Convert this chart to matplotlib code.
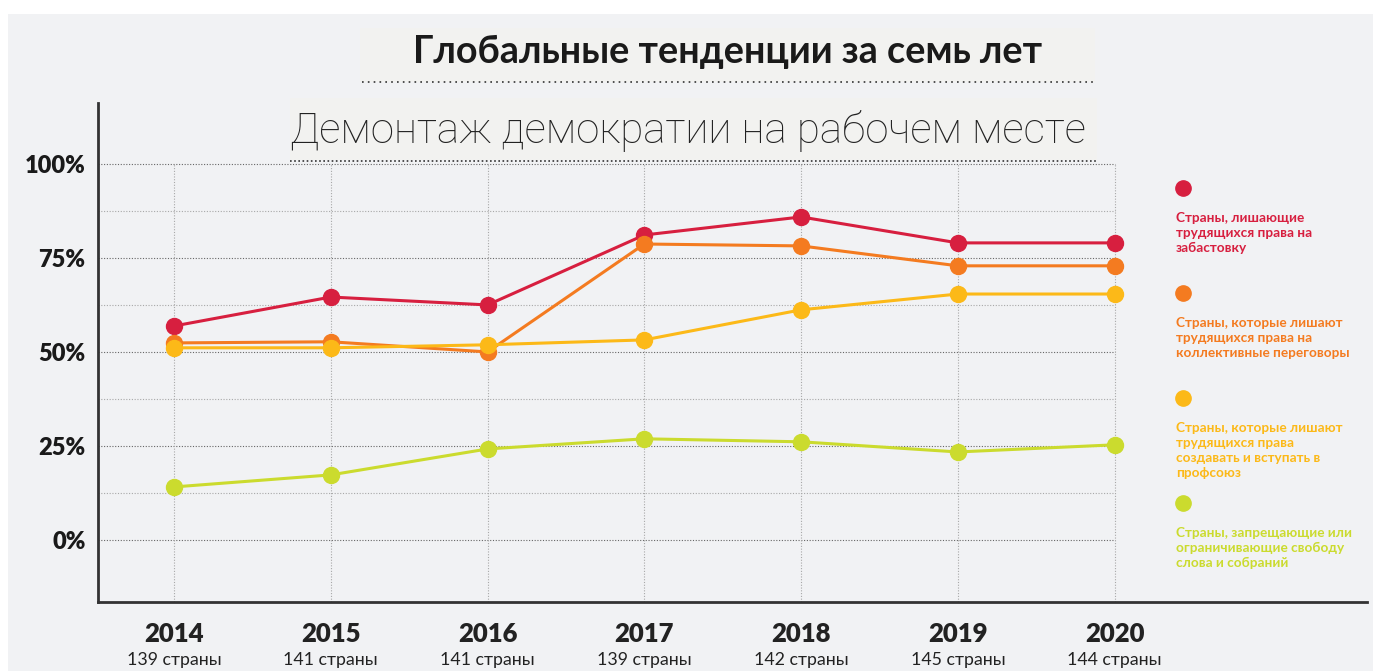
import matplotlib.pyplot as plt
from matplotlib.patches import Rectangle

plt.rcParams["font.family"] = ["Lato", "DejaVu Sans"]

years = [2014, 2015, 2016, 2017, 2018, 2019, 2020]
country_counts = ["139 страны", "141 страны", "141 страны", "139 страны",
                  "142 страны", "145 страны", "144 страны"]

strike = [56.9, 64.6, 62.5, 81.1, 85.9, 79.0, 79.0]
bargaining = [52.4, 52.7, 50.0, 78.7, 78.2, 72.9, 72.9]
unions = [51.1, 51.1, 51.9, 53.2, 61.2, 65.4, 65.4]
speech = [14.1, 17.3, 24.2, 26.9, 26.1, 23.4, 25.3]

series_labels = [
    "Страны, лишающие\nтрудящихся права на\nзабастовку",
    "Страны, которые лишают\nтрудящихся права на\nколлективные переговоры",
    "Страны, которые лишают\nтрудящихся права\nсоздавать и вступать в\nпрофсоюз",
    "Страны, запрещающие или\nограничивающие свободу\nслова и собраний",
]
colors = ["#d71f3f", "#f47b20", "#fcb918", "#cbdb2e"]

y_ticks = [0, 25, 50, 75, 100]
y_minor = [12.5, 37.5, 62.5, 87.5]

W, H = 1373, 671
BG = "#f1f2f4"


def fx(px):
    return px / W


def fy(py):
    return 1 - py / H


fig = plt.figure(figsize=(W / 100, H / 100), dpi=100, facecolor="white")
fig.patches.append(Rectangle((fx(8), 0), 1 - fx(8), fy(14), transform=fig.transFigure,
                             facecolor=BG, edgecolor="none", zorder=-3))
# faint boxes behind the headings
fig.patches.append(Rectangle((fx(360), fy(82)), fx(1095 - 360), (82 - 28) / H,
                             transform=fig.transFigure, facecolor="#f2f2f0",
                             edgecolor="none", zorder=-2))
fig.patches.append(Rectangle((fx(290), fy(160)), fx(1097 - 290), (160 - 98) / H,
                             transform=fig.transFigure, facecolor="#f2f2f0",
                             edgecolor="none", zorder=-2))

ax = fig.add_axes([fx(98), fy(602), fx(1367 - 98), (602 - 103) / H])
ax.set_facecolor("none")
ax.set_xlim(2013.515, 2021.61)
ax.set_ylim(-16.5, 116.2)

for s in ["top", "right"]:
    ax.spines[s].set_visible(False)
for s in ["left", "bottom"]:
    ax.spines[s].set_color("#333333")
    ax.spines[s].set_linewidth(2)

# grid
ax.hlines(y_ticks, 2013.515, 2020, colors="#666666", linestyles=(0, (1, 1.5)), linewidth=0.8, zorder=1)
ax.hlines(y_minor, 2013.515, 2020, colors="#a8a8a8", linestyles=(0, (1, 1.5)), linewidth=0.8, zorder=1)
ax.vlines(years, -16.5, 100, colors="#a8a8a8", linestyles=(0, (1, 1.5)), linewidth=0.8, zorder=1)

for vals, c in zip([strike, bargaining, unions, speech], colors):
    ax.plot(years, vals, color=c, lw=2.2, marker="o", ms=11.5, zorder=3)

ax.set_yticks(y_ticks)
ax.set_yticklabels([f"{v}%" for v in y_ticks], fontsize=17, fontweight="heavy", color="#1a1a1a")
ax.tick_params(axis="y", length=0, pad=9)
ax.set_xticks([])

for yr, cnt in zip(years, country_counts):
    ax.annotate(str(yr), (yr, 0), xycoords=("data", "axes fraction"), xytext=(0, -32),
                textcoords="offset pixels", ha="center", va="center",
                fontsize=18.5, fontweight="heavy", color="#222222")
    ax.annotate(cnt, (yr, 0), xycoords=("data", "axes fraction"), xytext=(0, -58),
                textcoords="offset pixels", ha="center", va="center",
                fontsize=12.8, color="#222222")

# headings
fig.text(fx(728), fy(52), "Глобальные тенденции за семь лет", ha="center", va="center",
         fontsize=27.2, fontweight="bold", color="#1a1a1a")
fig.add_artist(plt.Line2D([fx(362), fx(1095)], [fy(82), fy(82)], transform=fig.transFigure,
                          color="#333333", lw=1.2, linestyle=(0, (1, 2.5))))
fig.text(fx(688), fy(131), "Демонтаж демократии на рабочем месте", ha="center", va="center",
         fontsize=30.3, fontweight="light", color="#222222", family=["Roboto", "DejaVu Sans"])
fig.add_artist(plt.Line2D([fx(290), fx(1097)], [fy(161), fy(161)], transform=fig.transFigure,
                          color="#333333", lw=1.2, linestyle=(0, (1, 1.5))))

# legend
dot_y = [188, 293, 398, 503]
for lab, c, dy in zip(series_labels, colors, dot_y):
    fig.add_artist(plt.Line2D([fx(1183)], [fy(dy)], transform=fig.transFigure,
                              marker="o", ms=11, color=c, lw=0))
    fig.text(fx(1176), fy(dy + 24), lab, ha="left", va="top", fontsize=9.8,
             fontweight="bold", color=c, linespacing=1.3)

fig.savefig("out.png", dpi=100, facecolor="white")
